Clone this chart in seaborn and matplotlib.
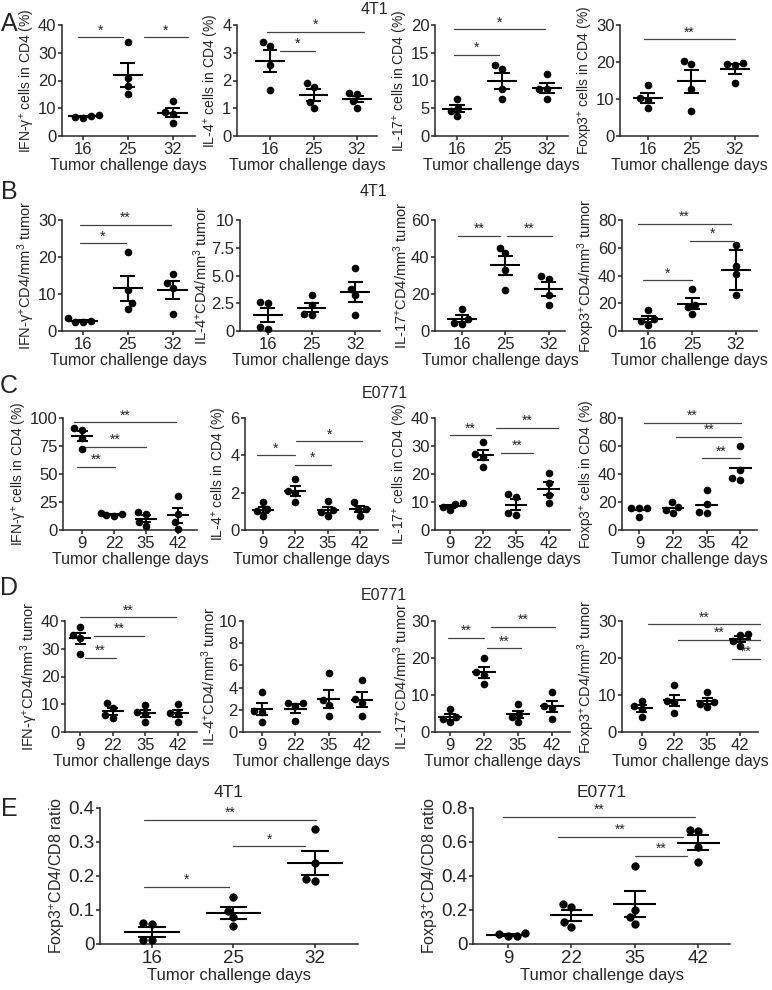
import numpy as np
import pandas as pd
import matplotlib
matplotlib.use('Agg')
import matplotlib.pyplot as plt
import seaborn as sns

# ---- data ----
DAYS_4T1 = ['16', '25', '32']
DAYS_E0771 = ['9', '22', '35', '42']

# A: 4T1, % of CD4
A_IFNG = [[7.5, 6.5, 7.0, 7.3], [34.0, 21.0, 18.0, 15.0], [12.5, 8.0, 8.5, 4.8]]
A_IL4 = [[3.25, 3.4, 2.55, 1.65], [1.92, 1.75, 1.24, 1.0], [1.55, 1.5, 1.25, 1.02]]
A_IL17 = [[5.0, 6.6, 4.5, 3.6], [12.8, 12.0, 8.5, 6.6], [11.1, 8.4, 8.4, 6.6]]
A_FOXP3 = [[13.8, 10.4, 9.7, 7.5], [19.4, 20.3, 12.6, 6.8], [19.3, 19.4, 19.7, 14.3]]

# B: 4T1, cells / mm3 tumor
B_IFNG = [[2.4, 2.6, 3.6, 2.5], [21.4, 11.0, 7.7, 5.9], [15.5, 13.0, 11.5, 4.5]]
B_IL4 = [[2.65, 2.55, 0.2, 0.4], [3.2, 2.3, 1.5, 1.4], [5.7, 3.8, 3.2, 1.4]]
B_IL17 = [[12.1, 6.5, 4.3, 4.0], [45.0, 42.0, 33.0, 22.0], [29.5, 28.0, 19.3, 13.9]]
B_FOXP3 = [[15.3, 8.5, 7.0, 4.5], [30.5, 19.0, 17.0, 12.5], [62.0, 47.0, 41.0, 26.0]]
B_FOXP3_ERR = [2.3, 3.9, 14.5]

# C: E0771, % of CD4
C_IFNG = [[89.5, 91.0, 82.0, 72.0], [15.5, 14.0, 13.5, 12.5], [16.0, 14.0, 7.0, 4.0], [30.5, 14.0, 7.0, 0.5]]
C_IL4 = [[1.5, 1.1, 1.0, 0.75], [2.75, 2.1, 2.0, 1.5], [1.57, 1.05, 0.95, 0.75], [1.5, 1.15, 1.15, 0.75]]
C_IL17 = [[9.5, 9.2, 8.2, 7.0], [31.3, 27.0, 26.0, 22.6], [12.8, 11.8, 6.2, 5.2], [20.2, 16.8, 12.5, 9.6]]
C_FOXP3 = [[15.7, 15.7, 15.4, 9.6], [19.8, 16.6, 14.5, 12.5], [28.7, 18.6, 12.6, 12.4], [60.2, 43.1, 35.9, 37.3]]

# D: E0771, cells / mm3 tumor
D_IFNG = [[38.0, 35.0, 34.0, 28.0], [10.5, 8.5, 6.0, 5.0], [9.8, 7.2, 6.5, 3.5], [10.0, 6.8, 6.5, 3.6]]
D_IL4 = [[3.6, 1.9, 1.8, 0.9], [2.6, 2.6, 2.3, 0.95], [5.3, 2.9, 2.4, 1.4], [4.7, 3.0, 2.6, 1.4]]
D_IL17 = [[6.3, 4.0, 3.5, 2.6], [20.0, 16.2, 15.5, 13.0], [7.5, 5.0, 4.0, 2.6], [10.8, 7.0, 6.5, 3.6]]
D_FOXP3 = [[8.5, 7.0, 6.3, 4.0], [12.6, 8.5, 8.0, 5.2], [10.8, 8.0, 7.7, 6.8], [26.4, 26.2, 24.5, 23.3]]

# E: Foxp3+CD4 / CD8 ratio
E_4T1 = [[0.061, 0.058, 0.012, 0.011], [0.137, 0.098, 0.080, 0.054], [0.338, 0.238, 0.185, 0.190]]
E_E0771 = [[0.058, 0.045, 0.062, 0.045], [0.235, 0.215, 0.130, 0.100],
           [0.460, 0.200, 0.160, 0.120], [0.665, 0.672, 0.570, 0.480]]

LBL_PCT = ['IFN-γ$^{+}$ cells in CD4 (%)', 'IL-4$^{+}$ cells in CD4 (%)',
           'IL-17$^{+}$ cells in CD4 (%)', 'Foxp3$^{+}$ cells in CD4 (%)']
LBL_MM3 = ['IFN-γ$^{+}$CD4/mm$^{3}$ tumor', 'IL-4$^{+}$CD4/mm$^{3}$ tumor',
           'IL-17$^{+}$CD4/mm$^{3}$ tumor', 'Foxp3$^{+}$CD4/mm$^{3}$ tumor']
LBL_RATIO = 'Foxp3$^{+}$CD4/CD8 ratio'

# ---- style ----
sns.set_style('ticks')
plt.rcParams['font.family'] = ['Liberation Sans', 'DejaVu Sans']
plt.rcParams['mathtext.fontset'] = 'custom'
plt.rcParams['mathtext.rm'] = 'Liberation Sans'
plt.rcParams['mathtext.it'] = 'Liberation Sans:italic'
plt.rcParams['mathtext.bf'] = 'Liberation Sans:bold'

W, H = 772, 990
fig = plt.figure(figsize=(W / 100, H / 100), dpi=100)
all_axes = []


def make_ax(left, right, top, bottom):
    ax = fig.add_axes([left / W, 1 - bottom / H, (right - left) / W, (bottom - top) / H])
    all_axes.append(ax)
    return ax


def draw_panel(ax, days, groups, ylabel, ymax, ystep, xlim, sig, err=None, show_err=True,
               ytl=None, tick_fs=12, xl_fs=11.5, yl_fs=10, dot=5.5, star_fs=10):
    df = pd.DataFrame({'day': np.repeat(days, [len(g) for g in groups]),
                       'val': np.concatenate(groups)})
    sns.swarmplot(data=df, x='day', y='val', order=days, color='black', size=dot,
                  ax=ax, zorder=3, clip_on=False)
    stats = df.groupby('day', sort=False)['val'].agg(['mean', 'sem']).reindex(days)
    pos = np.arange(len(days))
    m = stats['mean'].values
    ax.hlines(m, pos - 0.34, pos + 0.34, color='black', lw=1.5, zorder=4)
    if show_err:
        e = stats['sem'].values if err is None else np.asarray(err)
        ax.vlines(pos, m - e, m + e, color='black', lw=1.5, zorder=4)
        ax.hlines(np.r_[m - e, m + e], np.r_[pos, pos] - 0.17, np.r_[pos, pos] + 0.17,
                  color='black', lw=1.5, zorder=4)
    for x0, x1, y, lab in sig:
        ax.plot([x0, x1], [y, y], color='#444444', lw=0.9, clip_on=False)
        ax.text((x0 + x1) / 2, y, lab, ha='center', va='bottom', fontsize=star_fs)
    yt = np.arange(0, ymax + ystep / 2, ystep)
    ax.set_yticks(yt, ytl if ytl else [f'{v:g}' for v in yt])
    ax.set_ylim(0, ymax)
    ax.set_xlim(*xlim)
    ax.set_xlabel('Tumor challenge days', fontsize=xl_fs, labelpad=1)
    ax.set_ylabel(ylabel, fontsize=yl_fs)
    sns.despine(ax=ax)
    for s in ['left', 'bottom']:
        ax.spines[s].set_linewidth(1.1)
    ax.tick_params(width=1.1, length=3, labelsize=tick_fs, pad=1)


# ---- rows A-D ----
ROWS = [(25, 136), (220, 331), (418, 530), (621, 732)]
COLS = [
    [(62, 195, (-0.47, 2.5)), (237, 377, (-0.76, 2.46)), (435, 568, (-0.49, 2.47)), (620, 758, (-0.64, 2.53))],
    [(62, 195, (-0.47, 2.5)), (240, 380, (-0.64, 2.57)), (435, 565, (-0.62, 2.38)), (622, 757, (-0.6, 2.48))],
    [(63, 197, (-0.6, 3.6)), (245, 378, (-0.56, 3.56)), (435, 570, (-0.46, 3.65)), (622, 757, (-0.52, 3.5))],
    [(65, 197, (-0.47, 3.6)), (243, 380, (-0.57, 3.54)), (435, 570, (-0.44, 3.53)), (622, 758, (-0.6, 3.55))],
]

PANELS = [
    [dict(groups=A_IFNG, ymax=40, ystep=10, sig=[(-0.11, 0.89, 35.5, '*'), (1.35, 2.35, 35.5, '*')]),
     dict(groups=A_IL4, ymax=4, ystep=1, sig=[(-0.08, 2.15, 3.76, '*'), (0.23, 1.04, 3.06, '*')]),
     dict(groups=A_IL17, ymax=20, ystep=5, sig=[(-0.07, 1.95, 19.2, '*'), (-0.07, 0.93, 14.6, '*')]),
     dict(groups=A_FOXP3, ymax=30, ystep=10, sig=[(-0.08, 2.0, 26.1, '**')])],
    [dict(groups=B_IFNG, ymax=30, ystep=10, sig=[(-0.07, 1.96, 28.6, '**'), (-0.07, 0.96, 23.7, '*')]),
     dict(groups=B_IL4, ymax=10, ystep=2.5, sig=[], ytl=['0', '2.5', '5.0', '7.5', '10']),
     dict(groups=B_IL17, ymax=60, ystep=20, sig=[(-0.08, 0.88, 51.4, '**'), (1.04, 2.08, 51.4, '**')]),
     dict(groups=B_FOXP3, ymax=80, ystep=20, err=B_FOXP3_ERR,
          sig=[(-0.23, 1.89, 77.0, '**'), (0.96, 1.95, 65.0, '*'), (-0.11, 1.0, 36.4, '*')])],
    [dict(groups=C_IFNG, ymax=100, ystep=25,
          sig=[(-0.26, 2.94, 96, '**'), (0.1, 1.99, 74, '**'), (-0.15, 1.03, 56, '**')]),
     dict(groups=C_IL4, ymax=6, ystep=2,
          sig=[(-0.2, 0.98, 4.0, '*'), (1.03, 3.07, 4.75, '*'), (0.98, 2.1, 3.5, '*')]),
     dict(groups=C_IL17, ymax=40, ystep=10,
          sig=[(0.0, 1.24, 33.8, '**'), (1.4, 3.27, 36.4, '**'), (1.55, 2.53, 27.5, '**')]),
     dict(groups=C_FOXP3, ymax=80, ystep=20, show_err=False,
          sig=[(0.13, 3.03, 76.4, '**'), (1.1, 3.03, 66.3, '**'), (1.86, 2.98, 51.1, '**')])],
    [dict(groups=D_IFNG, ymax=40, ystep=10,
          sig=[(0.0, 2.95, 41.3, '**'), (0.42, 1.98, 34.6, '**'), (0.16, 1.1, 26.7, '**')]),
     dict(groups=D_IL4, ymax=10, ystep=2, sig=[]),
     dict(groups=D_IL17, ymax=30, ystep=10,
          sig=[(-0.05, 1.0, 25.5, '**'), (1.2, 3.1, 28.5, '**'), (1.1, 2.1, 22.6, '**')]),
     dict(groups=D_FOXP3, ymax=30, ystep=10,
          sig=[(0.2, 3.6, 29.1, '**'), (1.12, 3.6, 25.0, '**'), (2.76, 3.6, 19.7, '**')])],
]

ROW_DAYS = [DAYS_4T1, DAYS_4T1, DAYS_E0771, DAYS_E0771]
ROW_LABELS = [LBL_PCT, LBL_MM3, LBL_PCT, LBL_MM3]
ROW_YLFS = [10.0, 10.5, 10.0, 10.5]

for r, (top, bot) in enumerate(ROWS):
    for c, (l, rr, xl) in enumerate(COLS[r]):
        ax = make_ax(l, rr, top, bot)
        p = dict(PANELS[r][c])
        draw_panel(ax, ROW_DAYS[r], p.pop('groups'), ROW_LABELS[r][c], xlim=xl,
                   yl_fs=ROW_YLFS[r], **p)

# ---- row E ----
axE1 = make_ax(100, 358, 808, 944)
draw_panel(axE1, DAYS_4T1, E_4T1, LBL_RATIO, 0.4, 0.1, (-0.64, 2.53),
           [(-0.1, 2.02, 0.366, '**'), (1.0, 1.88, 0.287, '*'), (-0.1, 0.94, 0.167, '*')],
           tick_fs=13.5, xl_fs=12, yl_fs=11.5, dot=6)
axE2 = make_ax(473, 730, 808, 944)
draw_panel(axE2, DAYS_E0771, E_E0771, LBL_RATIO, 0.8, 0.2, (-0.55, 3.5),
           [(-0.08, 2.95, 0.747, '**'), (0.79, 2.76, 0.629, '**'), (2.0, 2.82, 0.52, '**')],
           tick_fs=13.5, xl_fs=12, yl_fs=11.5, dot=6)
axE1.set_title('4T1', fontsize=12.5, pad=8)
axE2.set_title('E0771', fontsize=12.5, pad=8)

# ---- panel letters and row titles ----
for lab, y in zip('ABCDE', [24, 192, 386, 588, 809]):
    fig.text(9 / W, 1 - y / H, lab, fontsize=18, ha='center', va='center')
for t, x, y in zip(['4T1', '4T1', 'E0771', 'E0771'], [374, 373, 385, 384], [9, 192, 394, 596]):
    fig.text(x / W, 1 - y / H, t, fontsize=11.5, ha='center', va='center')

# y labels sit right against the tick labels, as in the original
fig.canvas.draw()
rend = fig.canvas.get_renderer()
for ax in all_axes:
    left = min(t.get_window_extent(rend).x0 for t in ax.get_yticklabels() if t.get_text())
    xa = ax.transAxes.inverted().transform((left - 1, 0))[0]
    ax.yaxis.set_label_coords(xa, 0.5)

fig.savefig('out.png', dpi=100)
